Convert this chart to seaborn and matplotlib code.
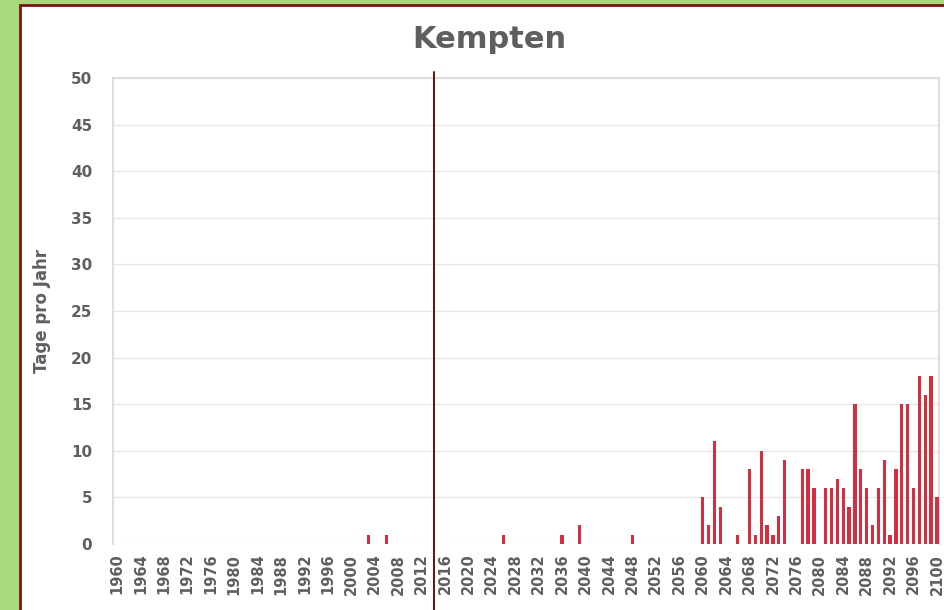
import matplotlib
matplotlib.use("Agg")
import matplotlib.pyplot as plt
import seaborn as sns
import pandas as pd
import numpy as np
from matplotlib.patches import Rectangle

years = list(range(1960, 2101))
nonzero = {
    2003: 1, 2006: 1, 2026: 1, 2036: 1, 2039: 2, 2048: 1,
    2060: 5, 2061: 2, 2062: 11, 2063: 4, 2066: 1, 2068: 8, 2069: 1,
    2070: 10, 2071: 2, 2072: 1, 2073: 3, 2074: 9, 2077: 8, 2078: 8,
    2079: 6, 2081: 6, 2082: 6, 2083: 7, 2084: 6, 2085: 4, 2086: 15,
    2087: 8, 2088: 6, 2089: 2, 2090: 6, 2091: 9, 2092: 1, 2093: 8,
    2094: 15, 2095: 15, 2096: 6, 2097: 18, 2098: 16, 2099: 18, 2100: 5,
}
days = [nonzero.get(y, 0) for y in years]
tick_years = list(range(1960, 2101, 4))
y_ticks = list(range(0, 51, 5))
title = "Kempten"
ylabel = "Tage pro Jahr"
vline_year = 2014.1

df = pd.DataFrame({"Jahr": years, "Tage": days})

sns.set_theme(style="white")
plt.rcParams['font.family'] = ['DejaVu Sans']

fig = plt.figure(figsize=(9.45, 6.1), dpi=100)
fig.patch.set_facecolor("#a9d97b")
# white panel with dark red border
panel = Rectangle((20 / 945, -0.01), 1.0, 1 - 5 / 610 + 0.01, transform=fig.transFigure,
                  facecolor="white", edgecolor="#7a1414", linewidth=2.0, zorder=-5)
fig.patches.append(panel)

ax = fig.add_axes([113 / 945, 1 - 544 / 610, (939 - 113) / 945, (544 - 78) / 610])
ax.set_zorder(2)
ax.set_facecolor("white")
sns.barplot(data=df, x="Jahr", y="Tage", native_scale=True, width=0.55,
            color="#d42e40", saturation=1, ax=ax, linewidth=0, zorder=3)

ax.set_xlim(1960 - 0.68, 2100 + 0.35)
ax.set_ylim(0, 50)
ax.set_yticks(y_ticks)
ax.set_xticks(tick_years)
ax.set_xticklabels([str(t) for t in tick_years], rotation=90, fontsize=10.5,
                   fontweight="bold", color="#5f5f5f")
ax.set_yticklabels([str(t) for t in y_ticks], fontsize=11, fontweight="bold",
                   color="#5f5f5f")
ax.tick_params(axis="x", length=0, pad=7)
ax.tick_params(axis="y", length=0, pad=15)
ax.grid(axis="y", color="#e8e8e8", linewidth=1, zorder=0)
ax.set_axisbelow(True)
for s in ax.spines.values():
    s.set_visible(True)
    s.set_color("#d9d9d9")
    s.set_linewidth(1.2)
ax.spines["bottom"].set_visible(False)

ax.set_xlabel("")
ax.set_ylabel(ylabel, fontsize=12, fontweight="bold", color="#5f5f5f", labelpad=14)
fig.text(489 / 945, 1 - 39 / 610, title, ha="center", va="center", fontsize=22,
         fontweight="bold", color="#5f5f5f")

ax.axvline(vline_year, ymin=-0.142, ymax=1.013, color="#6e0d0d", linewidth=1.4,
           clip_on=False, zorder=5)

fig.savefig("out.png", dpi=100, facecolor=fig.get_facecolor())
